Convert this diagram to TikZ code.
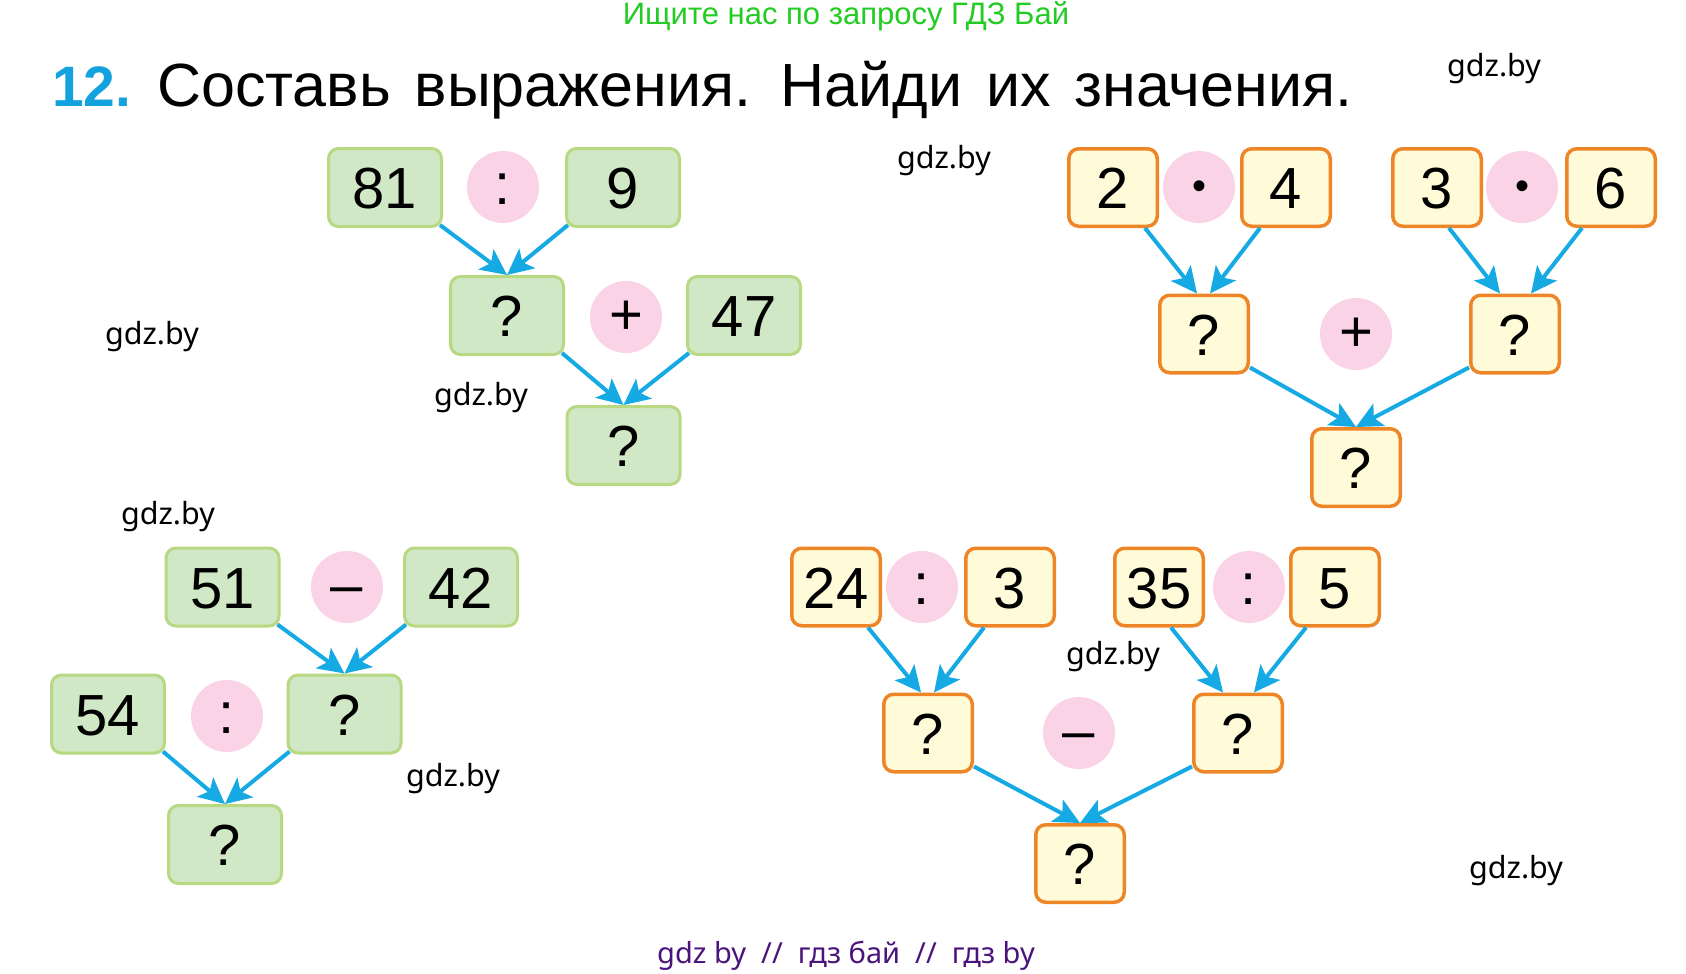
\documentclass[tikz,border=0pt]{standalone}
\usepackage{fontspec}
\setmainfont{Liberation Sans}
\newfontfamily\wmfont{Noto Sans}
\newfontfamily\taskfont[WordSpace=1.4]{Liberation Sans}
\usetikzlibrary{arrows.meta}
\definecolor{gfill}{RGB}{209,232,198}
\definecolor{gline}{RGB}{184,216,130}
\definecolor{ofill}{RGB}{255,251,216}
\definecolor{oline}{RGB}{238,134,40}
\definecolor{opink}{RGB}{250,212,230}
\definecolor{arrblue}{RGB}{22,170,228}
\definecolor{numblue}{RGB}{20,162,222}
\definecolor{topgreen}{RGB}{34,204,34}
\definecolor{botpurple}{RGB}{75,20,125}
\tikzset{
    gbox/.style={rectangle, rounded corners=10pt, draw=gline, fill=gfill, line width=3pt,
        minimum width=113pt, minimum height=78pt, inner sep=0pt,
        text height=42pt, text depth=0pt, font=\fontsize{58}{60}\selectfont},
    obox/.style={gbox, draw=oline, fill=ofill, line width=3.5pt,
        minimum width=88.5pt, minimum height=77.5pt},
    opc/.style={circle, fill=opink, minimum size=72pt, inner sep=0pt,
        text height=35pt, text depth=0pt, font=\fontsize{58}{60}\selectfont},
    opdot/.style={opc, text height=24pt, font=\fontsize{40}{42}\selectfont},
    arr/.style={draw=arrblue, line width=4pt, -{Stealth[length=26pt,width=25pt,inset=6pt]}},
    wm/.style={anchor=base, font=\wmfont\fontsize{30.5}{32}\selectfont}
}

\begin{document}
\begin{tikzpicture}[x=1pt, y=-1pt]
        \fill [white] (0,0) rectangle (1686,974);
        \useasboundingbox (0,0) rectangle (1686,974);
        % headings
        \node (top) [anchor=base, text=topgreen, font=\fontsize{31}{33}\selectfont] at (846, 25) {Ищите нас по запросу ГДЗ Бай};
        \node (num) [anchor=base west, inner sep=0pt, text=numblue, font=\bfseries\fontsize{57}{60}\selectfont] at (52, 106) {12.};
        \node (task) [anchor=base west, inner sep=0pt, font=\taskfont\fontsize{61}{63}\selectfont] at (157, 106) {Составь выражения. Найди их значения.};
        \node (bot) [anchor=base, text=botpurple, font=\wmfont\fontsize{29}{31}\selectfont] at (846, 963) {gdz by\ \ //\ \ гдз бай\ \ //\ \ гдз by};
        % watermarks
        \node (w1) [wm] at (1494, 77) {gdz.by};
        \node (w2) [wm] at (944, 168) {gdz.by};
        \node (w3) [wm] at (152, 344) {gdz.by};
        \node (w4) [wm] at (481, 405) {gdz.by};
        \node (w5) [wm] at (168, 524) {gdz.by};
        \node (w6) [wm] at (453, 786) {gdz.by};
        \node (w7) [wm] at (1113, 664) {gdz.by};
        \node (w8) [wm] at (1516, 878) {gdz.by};
        % 81 : 9 + 47
        \node (a81) [gbox] at (385, 187.5) {81};
        \node (aop1) [opc] at (503, 187) {:};
        \node (a9) [gbox] at (623, 187.5) {9};
        \node (aq1) [gbox] at (507, 315.5) {?};
        \node (aop2) [opc] at (626, 317) {+};
        \node (a47) [gbox] at (744, 315.5) {47};
        \node (aq2) [gbox] at (623.5, 445.5) {?};
        % 54 : (51 - 42)
        \node (b51) [gbox] at (222.5, 587) {51};
        \node (bop1) [opc] at (347, 587) {–};
        \node (b42) [gbox] at (461, 587) {42};
        \node (b54) [gbox] at (108, 714) {54};
        \node (bop2) [opc] at (227, 716) {:};
        \node (bq1) [gbox] at (344.5, 714) {?};
        \node (bq2) [gbox] at (225, 844.5) {?};
        % 2 * 4 + 3 * 6
        \node (c2) [obox] at (1113, 187.5) {2};
        \node (cop1) [opdot] at (1199, 187) {•};
        \node (c4) [obox] at (1286, 187.5) {4};
        \node (c3) [obox] at (1437, 187.5) {3};
        \node (cop2) [opdot] at (1522, 187) {•};
        \node (c6) [obox] at (1611, 187.5) {6};
        \node (cq1) [obox] at (1204, 334) {?};
        \node (cop3) [opc] at (1356, 334) {+};
        \node (cq2) [obox] at (1515, 334) {?};
        \node (cq3) [obox] at (1356, 467.5) {?};
        % 24 : 3 - 35 : 5
        \node (d24) [obox] at (836, 587) {24};
        \node (dop1) [opc] at (922, 587) {:};
        \node (d3) [obox] at (1010, 587) {3};
        \node (d35) [obox] at (1159, 587) {35};
        \node (dop2) [opc] at (1249, 587) {:};
        \node (d5) [obox] at (1335, 587) {5};
        \node (dq1) [obox] at (928, 733) {?};
        \node (dop3) [opc] at (1079, 733) {–};
        \node (dq2) [obox] at (1238, 733) {?};
        \node (dq3) [obox] at (1080, 863.5) {?};
        % arrows
        \draw [arr] ([xshift=-3pt,yshift=3pt]a81.south east) -- (aq1.north);
        \draw [arr] ([xshift=3pt,yshift=3pt]a9.south west) -- (aq1.north);
        \draw [arr] ([xshift=-3pt,yshift=3pt]aq1.south east) -- (aq2.north);
        \draw [arr] ([xshift=3pt,yshift=3pt]a47.south west) -- (aq2.north);
        \draw [arr] ([xshift=-3pt,yshift=3pt]b51.south east) -- (bq1.north);
        \draw [arr] ([xshift=3pt,yshift=3pt]b42.south west) -- (bq1.north);
        \draw [arr] ([xshift=-3pt,yshift=3pt]b54.south east) -- (bq2.north);
        \draw [arr] ([xshift=3pt,yshift=3pt]bq1.south west) -- (bq2.north);
        \draw [arr] ([xshift=32pt]c2.south) -- ([xshift=-7pt]cq1.north);
        \draw [arr] ([xshift=-26pt]c4.south) -- ([xshift=6pt]cq1.north);
        \draw [arr] ([xshift=12pt]c3.south) -- ([xshift=-15pt]cq2.north);
        \draw [arr] ([xshift=-29pt]c6.south) -- ([xshift=16pt]cq2.north);
        \draw [arr] ([yshift=7pt]cq1.south east) -- (cq3.north);
        \draw [arr] ([yshift=7pt]cq2.south west) -- (cq3.north);
        \draw [arr] ([xshift=32pt]d24.south) -- ([xshift=-7pt]dq1.north);
        \draw [arr] ([xshift=-26pt]d3.south) -- ([xshift=6pt]dq1.north);
        \draw [arr] ([xshift=12pt]d35.south) -- ([xshift=-15pt]dq2.north);
        \draw [arr] ([xshift=-29pt]d5.south) -- ([xshift=16pt]dq2.north);
        \draw [arr] ([yshift=7pt]dq1.south east) -- (dq3.north);
        \draw [arr] ([yshift=7pt]dq2.south west) -- (dq3.north);
\end{tikzpicture}
\end{document}
